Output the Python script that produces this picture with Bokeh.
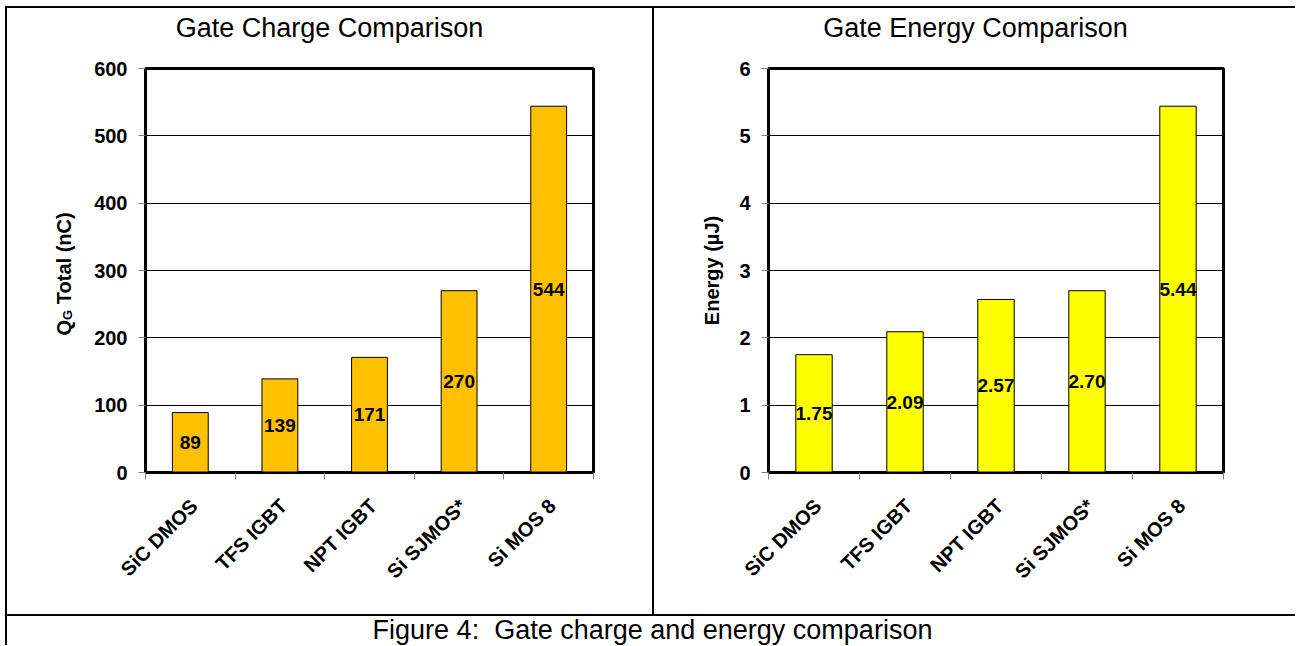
import math
from bokeh.plotting import figure
from bokeh.models import Range1d, FixedTicker, Label, ColumnDataSource, Div
from bokeh.layouts import row, column
from bokeh.embed import file_html
from bokeh.resources import INLINE
from bokeh.core.properties import value

# ---- data ----
categories = ["SiC DMOS", "TFS IGBT", "NPT IGBT", "Si SJMOS*", "Si MOS 8"]
gate_charge = [89, 139, 171, 270, 544]
gate_energy = [1.75, 2.09, 2.57, 2.70, 5.44]
charge_ticks = [0, 100, 200, 300, 400, 500, 600]
energy_ticks = [0, 1, 2, 3, 4, 5, 6]
title_left = "Gate Charge Comparison"
title_right = "Gate Energy Comparison"
ylabel_left = ["Q", "G", "Total (nC)"]
ylabel_right = "Energy (\u00b5J)"
caption_text = "Figure 4:\u00a0 Gate charge and energy comparison"

FONT = "Liberation Sans"
GRAY = "#808080"


def chart(width, height, bl, br, bt, bb, vals, ticks, color, fmt):
    n = len(categories)
    p = figure(width=width, height=height, x_range=Range1d(0, n),
               y_range=Range1d(ticks[0], ticks[-1]), title=None,
               output_backend="svg", toolbar_location=None,
               min_border_left=bl, min_border_right=br,
               min_border_top=bt, min_border_bottom=bb)
    centers = [i + 0.5 for i in range(n)]
    src = ColumnDataSource(dict(x=centers, top=vals,
                                mid=[v / 2 for v in vals],
                                label=[fmt.format(v) for v in vals]))
    p.vbar(x="x", top="top", width=0.4, source=src, fill_color=color,
           line_color="black", line_width=1)
    p.text(x="x", y="mid", text="label", source=src, text_font=value(FONT),
           text_font_style="bold", text_font_size="19px", text_align="center",
           text_baseline="middle", text_color="black")

    # category labels sit at (invisible) major ticks, boundaries get minor ticks
    label_pos = [i + 0.54 for i in range(n)]
    xa = p.xaxis[0]
    xa.ticker = FixedTicker(ticks=label_pos, minor_ticks=list(range(n + 1)))
    xa.major_label_overrides = {c: name for c, name in zip(label_pos, categories)}
    xa.major_label_orientation = math.pi / 4
    xa.major_tick_line_color = None
    xa.major_tick_in = 0
    xa.major_tick_out = 0
    xa.minor_tick_in = 0
    xa.minor_tick_out = 7
    xa.minor_tick_line_color = GRAY
    xa.axis_line_color = "black"
    xa.axis_line_width = 2
    xa.major_label_text_font = FONT
    xa.major_label_text_font_size = "20px"
    xa.major_label_text_font_style = "bold"
    xa.major_label_text_color = "black"
    xa.major_label_standoff = 23

    ya = p.yaxis[0]
    ya.ticker = FixedTicker(ticks=ticks)
    ya.major_tick_in = 0
    ya.major_tick_out = 7
    ya.major_tick_line_color = GRAY
    ya.minor_tick_line_color = None
    ya.axis_line_color = "black"
    ya.axis_line_width = 2
    ya.major_label_text_font = FONT
    ya.major_label_text_font_size = "20px"
    ya.major_label_text_font_style = "bold"
    ya.major_label_text_color = "black"
    ya.major_label_standoff = 11

    p.xgrid.visible = False
    p.ygrid.ticker = FixedTicker(ticks=ticks)
    p.ygrid.grid_line_color = "black"
    p.ygrid.grid_line_width = 1
    p.outline_line_color = "black"
    p.outline_line_width = 3
    p.background_fill_color = "white"
    p.border_fill_color = "white"
    return p


def blank(width, height):
    p = figure(width=width, height=height, x_range=Range1d(0, 1),
               y_range=Range1d(0, 1), output_backend="svg",
               toolbar_location=None, min_border=0, x_axis_type=None,
               y_axis_type=None, outline_line_color=None, title=None)
    p.xgrid.visible = False
    p.ygrid.visible = False
    p.border_fill_color = "white"
    p.background_fill_color = "white"
    return p


def lbl(text, x, y, size, bold=False, angle=0.0, align="center"):
    return Label(x=x, y=y, x_units="canvas", y_units="canvas", text=text,
                 text_font=FONT, text_font_size=size,
                 text_font_style="bold" if bold else "normal",
                 text_align=align, text_baseline="alphabetic",
                 text_color="black", angle=angle)


def bar(w, h, color="black"):
    return Div(text="", width=w, height=h, margin=0,
               styles={"background-color": color})


# ---- left cell (page x 7..652, y 8..614) ----
t1 = blank(645, 45)
t1.add_layout(lbl(title_left, 322, 19, "27px"))
yl1 = blank(80, 561)
yl1.add_layout(lbl(ylabel_left[0], 56, 282, "20px", True, math.pi / 2, "left"))
yl1.add_layout(lbl(ylabel_left[1], 60, 266.4, "13px", True, math.pi / 2, "left"))
yl1.add_layout(lbl(ylabel_left[2], 56, 250.7, "20px", True, math.pi / 2, "left"))
f1 = chart(565, 561, 58, 59, 15, 142, gate_charge, charge_ticks, "#FFC000", "{:.0f}")
cell1 = column(t1, row(yl1, f1, spacing=0), spacing=0)

# ---- right cell (page x 654..1295) ----
t2 = blank(641, 45)
t2.add_layout(lbl(title_right, 321, 19, "27px"))
yl2 = blank(80, 561)
yl2.add_layout(lbl(ylabel_right, 57, 217, "20px", True, math.pi / 2, "center"))
f2 = chart(561, 561, 34, 72, 15, 142, gate_energy, energy_ticks, "#FFFF00", "{:.2f}")
cell2 = column(t2, row(yl2, f2, spacing=0), spacing=0)

# ---- caption (page y 616..645) ----
cap = blank(1288, 29)
cap.add_layout(lbl(caption_text, 645, 13, "27px"))

table = column(
    bar(1290, 6, "white"),
    bar(1290, 2),
    row(bar(2, 606), cell1, bar(2, 606), cell2, spacing=0),
    bar(1290, 2),
    row(bar(2, 29), cap, spacing=0),
    spacing=0,
)
root = row(bar(5, 645, "white"), table, spacing=0)

open("out.html", "w").write(file_html(root, INLINE))
